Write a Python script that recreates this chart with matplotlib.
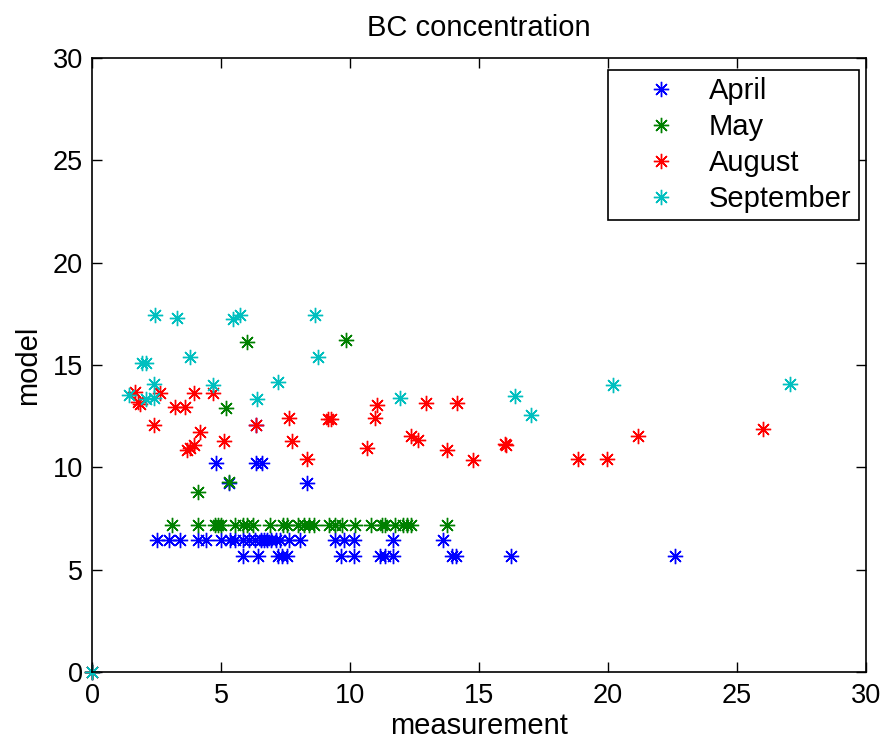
import matplotlib
matplotlib.use('Agg')
import matplotlib.pyplot as plt

plt.rcParams['font.family'] = ['Liberation Sans', 'DejaVu Sans']

# April
april_x = [2.5, 3.0, 3.4, 4.1, 4.4, 5.0, 5.35, 5.55, 5.85, 6.1, 6.3, 6.55, 6.65, 6.8,
           6.95, 7.15, 7.3, 7.65, 8.05, 9.4, 9.75, 10.15, 11.65, 13.6,
           5.85, 6.45, 7.2, 7.35, 7.55, 9.65, 10.15, 11.15, 11.35, 11.65, 13.95, 14.1,
           16.25, 22.6,
           4.8, 6.35, 6.6, 5.3, 8.35, 6.35, 0]
april_y = [6.45] * 24 + [5.65] * 14 + [10.2, 10.2, 10.2, 9.25, 9.25, 12.05, 0]

# May
may_x = [3.1, 4.1, 4.75, 4.9, 5.0, 5.55, 5.85, 6.0, 6.25, 6.9, 7.4, 7.55, 8.0, 8.2,
         8.4, 8.6, 9.2, 9.4, 9.7, 10.2, 10.8, 11.25, 11.35, 11.75, 12.05, 12.2, 12.35,
         13.75,
         6.0, 9.85, 5.2, 4.1, 5.3, 0]
may_y = [7.2] * 28 + [16.1, 16.2, 12.9, 8.8, 9.3, 0]

# August
aug_x = [1.65, 1.8, 1.85, 2.65, 3.95, 4.7, 3.2, 3.6, 2.4, 4.2, 3.7, 3.8, 3.95, 5.1,
         6.35, 7.65, 7.75, 8.35, 9.15, 9.25, 10.65, 11.05, 10.95, 12.95, 14.15, 12.35,
         12.65, 13.75, 14.75, 16.0, 16.05, 18.85, 19.95, 21.15, 26.0, 0]
aug_y = [13.7, 13.2, 13.1, 13.65, 13.65, 13.65, 12.95, 12.95, 12.05, 11.75, 10.85,
         10.95, 11.1, 11.3, 12.05, 12.4, 11.3, 10.4, 12.35, 12.35, 10.95, 13.05, 12.4,
         13.15, 13.15, 11.55, 11.35, 10.85, 10.35, 11.15, 11.1, 10.4, 10.4, 11.55,
         11.85, 0]

# September
sep_x = [2.45, 3.3, 5.45, 5.75, 8.65, 3.8, 1.95, 2.1, 8.75, 2.4, 4.7, 7.2, 1.45, 2.1,
         2.4, 6.4, 11.95, 16.4, 17.0, 20.2, 27.05, 0]
sep_y = [17.45, 17.3, 17.25, 17.45, 17.45, 15.4, 15.1, 15.1, 15.4, 14.05, 14.0,
         14.15, 13.55, 13.35, 13.4, 13.35, 13.4, 13.5, 12.55, 14.0, 14.05, 0]

fig = plt.figure(figsize=(8.89, 7.42), dpi=100)
ax = fig.add_axes([92 / 889, 70 / 742, 774 / 889, 614 / 742])

star = (8, 2, 0)
ax.plot(april_x, april_y, linestyle='none', marker=star, markersize=11,
        markeredgewidth=1, color=(0, 0, 1), label='April', clip_on=False)
ax.plot(may_x, may_y, linestyle='none', marker=star, markersize=11,
        markeredgewidth=1, color=(0, 0.5, 0), label='May', clip_on=False)
ax.plot(aug_x, aug_y, linestyle='none', marker=star, markersize=11,
        markeredgewidth=1, color=(1, 0, 0), label='August', clip_on=False)
ax.plot(sep_x, sep_y, linestyle='none', marker=star, markersize=11,
        markeredgewidth=1, color=(0, 0.75, 0.75), label='September', clip_on=False)

ax.set_xlim(0, 30)
ax.set_ylim(0, 30)
ax.set_xticks(range(0, 31, 5))
ax.set_yticks(range(0, 31, 5))
ax.tick_params(direction='in', length=7, width=1, top=True, right=True,
               labelsize=19.5)
ax.tick_params(axis='x', pad=8)
ax.tick_params(axis='y', pad=6.5)
for s in ax.spines.values():
    s.set_linewidth(1.2)

ax.set_title('BC concentration', fontsize=21, pad=16)
ax.set_xlabel('measurement', fontsize=21, labelpad=2)
ax.set_ylabel('model', fontsize=21, labelpad=8)

leg = ax.legend(loc='upper right', bbox_to_anchor=(0.991, 0.9805), fontsize=21,
                fancybox=False, framealpha=1, edgecolor='black', borderpad=0.25,
                labelspacing=0.27, handletextpad=0.1, handlelength=3.1,
                borderaxespad=0)
leg.get_frame().set_linewidth(1.2)

fig.savefig('out.png', dpi=100)
